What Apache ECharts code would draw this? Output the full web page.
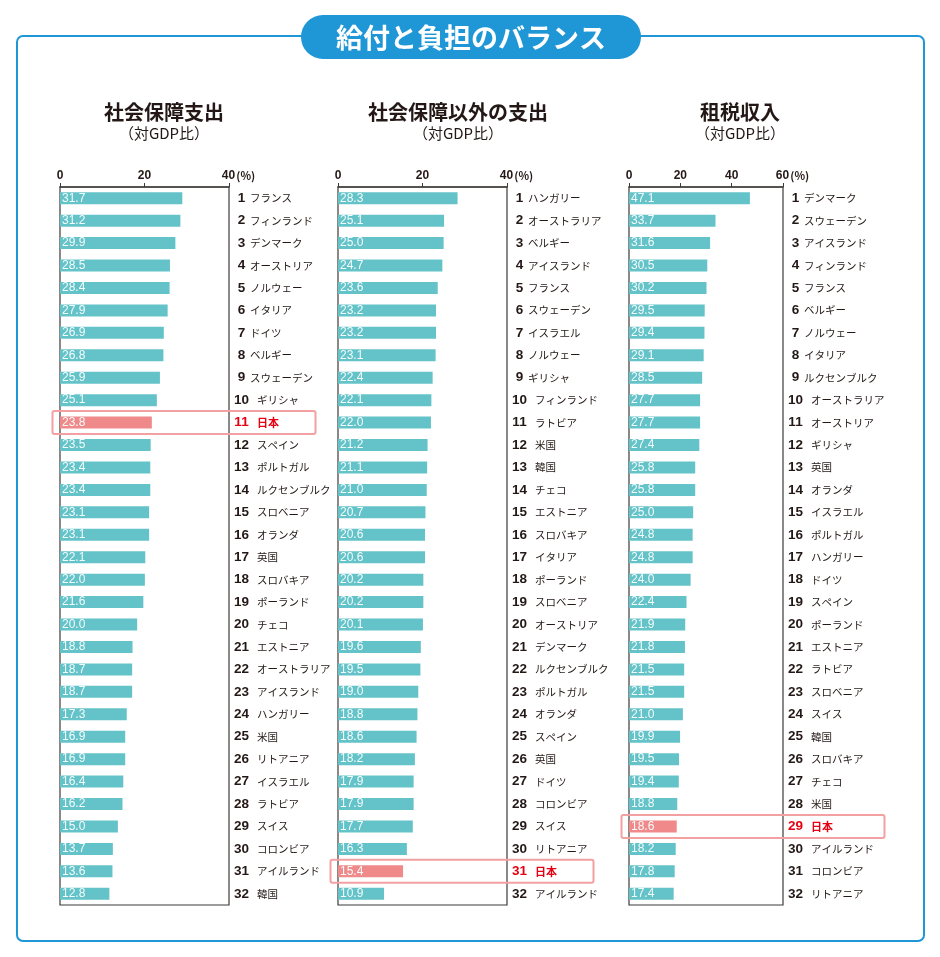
<!DOCTYPE html>
<html><head><meta charset="utf-8">
<script src="https://cdn.jsdelivr.net/npm/echarts@6/dist/echarts.min.js"></script>
<style>html,body{margin:0;padding:0;background:#fff}#c{width:940px;height:957px}</style>
</head><body><div id="c"></div>
<script>
// ---- data ----
const headerText = '給付と負担のバランス';
const subtitle = '（対GDP比）';
const highlight = '日本';

const title1 = '社会保障支出';
const countries1 = ['フランス','フィンランド','デンマーク','オーストリア','ノルウェー','イタリア','ドイツ','ベルギー','スウェーデン','ギリシャ','日本','スペイン','ポルトガル','ルクセンブルク','スロベニア','オランダ','英国','スロバキア','ポーランド','チェコ','エストニア','オーストラリア','アイスランド','ハンガリー','米国','リトアニア','イスラエル','ラトビア','スイス','コロンビア','アイルランド','韓国'];
const values1 = [31.7,31.2,29.9,28.5,28.4,27.9,26.9,26.8,25.9,25.1,23.8,23.5,23.4,23.4,23.1,23.1,22.1,22.0,21.6,20.0,18.8,18.7,18.7,17.3,16.9,16.9,16.4,16.2,15.0,13.7,13.6,12.8];
const ticks1 = [0,20,40];

const title2 = '社会保障以外の支出';
const countries2 = ['ハンガリー','オーストラリア','ベルギー','アイスランド','フランス','スウェーデン','イスラエル','ノルウェー','ギリシャ','フィンランド','ラトビア','米国','韓国','チェコ','エストニア','スロバキア','イタリア','ポーランド','スロベニア','オーストリア','デンマーク','ルクセンブルク','ポルトガル','オランダ','スペイン','英国','ドイツ','コロンビア','スイス','リトアニア','日本','アイルランド'];
const values2 = [28.3,25.1,25.0,24.7,23.6,23.2,23.2,23.1,22.4,22.1,22.0,21.2,21.1,21.0,20.7,20.6,20.6,20.2,20.2,20.1,19.6,19.5,19.0,18.8,18.6,18.2,17.9,17.9,17.7,16.3,15.4,10.9];
const ticks2 = [0,20,40];

const title3 = '租税収入';
const countries3 = ['デンマーク','スウェーデン','アイスランド','フィンランド','フランス','ベルギー','ノルウェー','イタリア','ルクセンブルク','オーストラリア','オーストリア','ギリシャ','英国','オランダ','イスラエル','ポルトガル','ハンガリー','ドイツ','スペイン','ポーランド','エストニア','ラトビア','スロベニア','スイス','韓国','スロバキア','チェコ','米国','日本','アイルランド','コロンビア','リトアニア'];
const values3 = [47.1,33.7,31.6,30.5,30.2,29.5,29.4,29.1,28.5,27.7,27.7,27.4,25.8,25.8,25.0,24.8,24.8,24.0,22.4,21.9,21.8,21.5,21.5,21.0,19.9,19.5,19.4,18.8,18.6,18.2,17.8,17.4];
const ticks3 = [0,20,40,60];

// ---- layout / style ----
const TEAL = '#63c3c8', PINK = '#f08a8a', RED = '#e60012', INK = '#231815', BLUE = '#1f96d5';
const JP = '"Noto Sans CJK JP", sans-serif';
const GT = 187, GH = 718;
const panels = [
  {title:title1, countries:countries1, values:values1, ticks:ticks1, left:60,  width:169, barMax:43.8, cx:164},
  {title:title2, countries:countries2, values:values2, ticks:ticks2, left:338, width:169, barMax:40,   cx:458},
  {title:title3, countries:countries3, values:values3, ticks:ticks3, left:629, width:154, barMax:60,   cx:740}
];

const grid = [], xAxis = [], yAxis = [], series = [];
panels.forEach((p, i) => {
  const tmax = p.ticks[p.ticks.length - 1];
  grid.push({left:p.left, top:GT, width:p.width, height:GH, show:true, borderColor:'#3e3a39', borderWidth:1.2, containLabel:false});
  xAxis.push({
    gridIndex:i, type:'value', position:'top', min:p.ticks[0], max:tmax, interval:p.ticks[1]-p.ticks[0],
    axisLine:{show:true, lineStyle:{color:'#3e3a39', width:1.5}},
    axisTick:{show:true, length:4, lineStyle:{color:'#3e3a39', width:1}},
    splitLine:{show:false},
    axisLabel:{
      margin:5, color:INK, fontSize:12, fontFamily:'"Liberation Sans", sans-serif', fontWeight:'bold',
      formatter: v => v === tmax ? '{pad| }{v|' + v + '}{p|(%)}' : String(v),
      rich:{pad:{width:19}, v:{fontSize:12, fontWeight:'bold', color:INK, fontFamily:'"Liberation Sans", sans-serif'},
            p:{width:19, align:'left', padding:[0,0,0,1], fontSize:11, color:INK, fontFamily:JP}}
    }
  });
  xAxis.push({gridIndex:i, type:'value', min:0, max:p.barMax, show:false});
  yAxis.push({
    gridIndex:i, type:'category', inverse:true, data:p.countries, position:'right',
    axisLine:{show:false}, axisTick:{show:false}, splitLine:{show:false},
    axisLabel:{
      margin:6, interval:0, align:'left',
      formatter:(v, idx) => {
        const rank = idx + 1, j = v === highlight ? 'J' : '';
        return '{r' + j + '|' + rank + '}{' + (rank < 10 ? 'n' : 'm') + j + '|' + v + '}';
      },
      rich:{
        r:{width:13, align:'right', fontFamily:'"Liberation Sans", sans-serif', fontWeight:'bold', fontSize:13.5, color:INK},
        rJ:{width:13, align:'right', fontFamily:'"Liberation Sans", sans-serif', fontWeight:'bold', fontSize:13.5, color:RED},
        n:{padding:[0,0,0,2], fontFamily:JP, fontSize:10.5, color:INK},
        m:{padding:[0,0,0,9], fontFamily:JP, fontSize:10.5, color:INK},
        nJ:{padding:[0,0,0,2], fontFamily:JP, fontSize:11, fontWeight:'bold', color:RED},
        mJ:{padding:[0,0,0,9], fontFamily:JP, fontSize:11, fontWeight:'bold', color:RED}
      }
    }
  });
  series.push({
    type:'bar', xAxisIndex:2*i+1, yAxisIndex:i, barWidth:12, silent:true,
    itemStyle:{color:TEAL},
    data:p.values.map((v, k) => p.countries[k] === highlight ? {value:v, itemStyle:{color:PINK}} : v),
    label:{show:true, position:'insideLeft', distance:2, color:'#f4fbfb', fontSize:12,
           fontFamily:'"Liberation Sans Narrow", "Liberation Sans", sans-serif',
           formatter: q => Number(q.value).toFixed(1)}
  });
});

const chart = echarts.init(document.getElementById('c'), null, {renderer:'canvas'});
const baseGraphic = [
  {type:'rect', z:-1, shape:{x:17, y:36, width:907, height:905, r:6}, style:{fill:'none', stroke:BLUE, lineWidth:2}},
  {type:'rect', z:10, shape:{x:301, y:15, width:340, height:44, r:22}, style:{fill:BLUE}},
  {type:'text', z:11, x:471, y:38, style:{text:headerText, fill:'#fff', fontSize:27, fontWeight:'bold', fontFamily:JP, align:'center', verticalAlign:'middle'}}
];
panels.forEach(p => {
  baseGraphic.push({type:'text', x:p.cx, y:112, style:{text:p.title, fill:INK, fontSize:20, fontWeight:'bold', fontFamily:JP, align:'center', verticalAlign:'middle'}});
  baseGraphic.push({type:'text', x:p.cx, y:133, style:{text:subtitle, fill:INK, fontSize:15, fontFamily:JP, align:'center', verticalAlign:'middle'}});
});
chart.setOption({animation:false, backgroundColor:'#fff', grid, xAxis, yAxis, series, graphic:baseGraphic});

// highlight frames around Japan's row
const hl = [];
panels.forEach((p, i) => {
  const cy = chart.convertToPixel({yAxisIndex:i}, highlight);
  hl.push({type:'rect', z:5, shape:{x:p.left - 7.5, y:cy - 11.5, width:263, height:23, r:2}, style:{fill:'none', stroke:'#f3a0a2', lineWidth:2}});
});
chart.setOption({graphic:baseGraphic.concat(hl)});
</script></body></html>
